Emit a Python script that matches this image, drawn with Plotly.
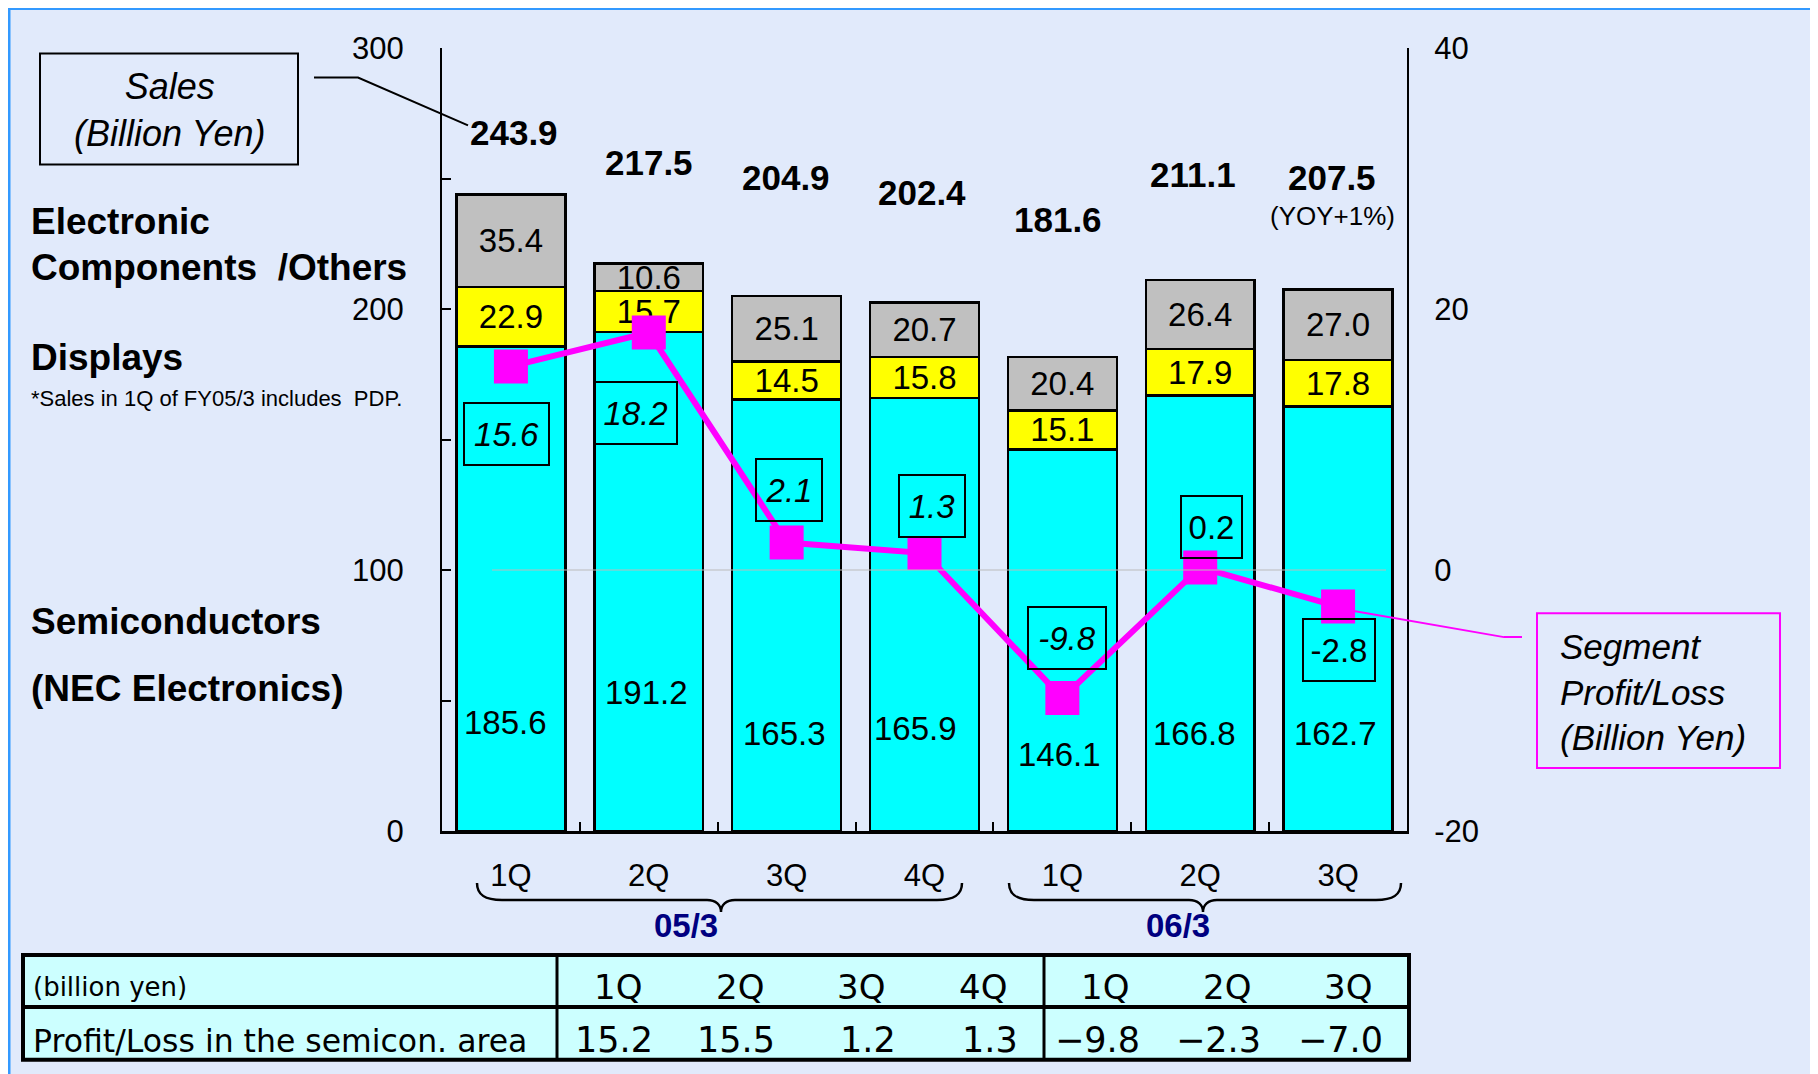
import plotly.graph_objects as go

# ---------------- data ----------------
periods = ["05/3 1Q", "05/3 2Q", "05/3 3Q", "05/3 4Q", "06/3 1Q", "06/3 2Q", "06/3 3Q"]
quarters = ["1Q", "2Q", "3Q", "4Q", "1Q", "2Q", "3Q"]
semiconductors = [185.6, 191.2, 165.3, 165.9, 146.1, 166.8, 162.7]
displays = [22.9, 15.7, 14.5, 15.8, 15.1, 17.9, 17.8]
others = [35.4, 10.6, 25.1, 20.7, 20.4, 26.4, 27.0]
sales_total = [243.9, 217.5, 204.9, 202.4, 181.6, 211.1, 207.5]
segment_pl = [15.6, 18.2, 2.1, 1.3, -9.8, 0.2, -2.8]
segment_italic = [True, True, True, True, True, False, False]
fiscal_years = ["05/3", "06/3"]
semicon_area_pl = [15.2, 15.5, 1.2, 1.3, -9.8, -2.3, -7.0]
left_ticks = [0, 50, 100, 150, 200, 250, 300]
left_tick_text = ["0", "", "100", "", "200", "", "300"]
right_ticks = [-20, 0, 20, 40]
right_tick_text = ["-20", "0", "20", "40"]

# ---------------- layout helpers (page pixels) ----------------
OFF = 8                      # body margin of the html page
W, H = 1810, 1066
PL, PR, PT, PB = 442, 1407, 47.5, 831
FONT = "Liberation Sans, Arial, sans-serif"
TFONT = "DejaVu Sans, Liberation Sans, sans-serif"
BG = "#E1EAFB"


def px(x):
    return (x - PL) / (PR - PL)


def py(y):
    return (PB - y) / (PB - PT)


# label placement (page pixels)
total_py = [132, 162, 177, 192, 219, 174, 177]
total_dx = [3, 0, -1, -3, -4, -7, -6]
semi_py = [722, 692, 733, 728, 754, 733, 733]
semi_dx = [-5, -2, -2, -9, -3, -6, -3]
seg_py = [434, 413, 490, 506, 638, 527, 650]
seg_dx = [-4, -13, 2, 7, 5, 11, 1]
seg_w = [85, 83, 66, 66, 78, 61, 72]

fig = go.Figure()

fig.add_trace(go.Bar(
    x=periods, y=semiconductors, name="Semiconductors",
    marker=dict(color="#00FFFF", line=dict(color="black", width=2.5)),
))
fig.add_trace(go.Bar(
    x=periods, y=displays, name="Displays",
    marker=dict(color="#FFFF00", line=dict(color="black", width=2.5)),
    text=[f"{v:.1f}" for v in displays], textposition="inside",
    insidetextanchor="middle", constraintext="none", textangle=0,
    textfont=dict(family=FONT, size=33, color="black"),
))
fig.add_trace(go.Bar(
    x=periods, y=others, name="Electronic Components /Others",
    marker=dict(color="#C0C0C0", line=dict(color="black", width=2.5)),
    text=[f"{v:.1f}" for v in others], textposition="inside",
    insidetextanchor="middle", constraintext="none", textangle=0,
    textfont=dict(family=FONT, size=33, color="black"),
))
fig.add_trace(go.Scatter(
    x=periods, y=segment_pl, yaxis="y2", mode="lines+markers",
    name="Segment Profit/Loss",
    line=dict(color="#FF00FF", width=6),
    marker=dict(symbol="square", size=34, color="#FF00FF"),
))

ann = []


def text_at(x, y, text, size, xref="paper", xanchor="center", color="black",
            family=FONT, **kw):
    d = dict(x=x, xref=xref, y=y, yref="paper", text=text, showarrow=False,
             xanchor=xanchor, yanchor="middle",
             font=dict(family=family, size=size, color=color))
    d.update(kw)
    ann.append(d)


# totals
for i, v in enumerate(sales_total):
    text_at(periods[i], py(total_py[i]), f"<b>{v:.1f}</b>", 35, xref="x", xshift=total_dx[i])
text_at(periods[6], py(216), "(YOY+1%)", 26, xref="x", xshift=-6)
# semiconductor values
for i, v in enumerate(semiconductors):
    text_at(periods[i], py(semi_py[i]), f"{v:.1f}", 33, xref="x", xshift=semi_dx[i])
# segment value boxes
for i, v in enumerate(segment_pl):
    t = f"{v:.1f}"
    if segment_italic[i]:
        t = f"<i>{t}</i>"
    text_at(periods[i], py(seg_py[i]), t, 33, xref="x", xshift=seg_dx[i],
            width=seg_w[i] - 2, height=60, borderpad=0,
            bordercolor="black", borderwidth=2)

# left side labels
for t, yy in [("<b>Electronic</b>", 221),
              ("<b>Components\u00a0\u00a0/Others</b>", 267),
              ("<b>Displays</b>", 357),
              ("<b>Semiconductors</b>", 621),
              ("<b>(NEC Electronics)</b>", 688)]:
    text_at(px(29), py(yy), t, 37, xanchor="left")
text_at(px(29), py(398), "*Sales in 1Q of FY05/3 includes\u00a0\u00a0PDP.", 22, xanchor="left",
        family="Liberation Sans Narrow, Arial Narrow, Liberation Sans, sans-serif")

# Sales box text
text_at(px(169), py(110), "<i>Sales</i><br><i>(Billion Yen)</i>", 36)
# Segment Profit/Loss box text
text_at(px(1558), py(692), "<i>Segment</i><br><i>Profit/Loss</i><br><i>(Billion Yen)</i>",
        35, xanchor="left", align="left")

# fiscal year labels
for fy, xx in zip(fiscal_years, [686, 1178]):
    text_at(px(xx), py(926), f"<b>{fy}</b>", 33, color="#000080")

# ---------------- table ----------------
T_L, T_R, T_T, T_M, T_B = 23, 1409, 955, 1007, 1060
C1, C2 = 557, 1044
col_edges = [C1 + k * (C2 - C1) / 4 for k in range(5)] + [C2 + k * (T_R - C2) / 3 for k in range(1, 4)]
col_centers = [(col_edges[k] + col_edges[k + 1]) / 2 for k in range(7)]
text_at(px(31), py(987), "(billion yen)", 26, xanchor="left", family=TFONT)
text_at(px(31), py(1041), "Profit/Loss in the semicon. area", 31.5, xanchor="left", family=TFONT)
for k in range(7):
    text_at(px(col_centers[k]), py(987), quarters[k], 34, family=TFONT)
    text_at(px(col_edges[k + 1] - 24), py(1040),
            f"{semicon_area_pl[k]:.1f}".replace("-", "\u2212"), 35,
            xanchor="right", family=TFONT)

shapes = []
# frame lines (top / left) of the slide area
shapes.append(dict(type="line", xref="paper", yref="paper", x0=px(8), x1=px(1830),
                   y0=py(8), y1=py(8), line=dict(color="#3399FF", width=3)))
shapes.append(dict(type="line", xref="paper", yref="paper", x0=px(9), x1=px(9),
                   y0=py(7), y1=py(1080), line=dict(color="#3399FF", width=3)))
# faint zero gridline of the right axis
shapes.append(dict(type="line", xref="paper", yref="y2", x0=px(492), x1=px(1386), y0=0, y1=0,
                   line=dict(color="#BBBBBB", width=1), layer="above"))
# sales box + leader
shapes.append(dict(type="rect", xref="paper", yref="paper",
                   x0=px(40), x1=px(298), y0=py(53), y1=py(164),
                   line=dict(color="black", width=2)))
shapes.append(dict(type="path", xref="paper", yref="paper",
                   path=f"M {px(314)},{py(77)} L {px(358)},{py(77)} L {px(468)},{py(125)}",
                   line=dict(color="black", width=2)))
# segment box + leader
shapes.append(dict(type="rect", xref="paper", yref="paper",
                   x0=px(1537), x1=px(1780), y0=py(613), y1=py(768),
                   line=dict(color="#FF00FF", width=2)))
shapes.append(dict(type="path", xref="paper", yref="paper",
                   path=f"M {px(1338)},{py(608)} L {px(1504)},{py(637)} L {px(1522)},{py(637)}",
                   line=dict(color="#FF00FF", width=2)))


# braces
def brace(x0, x1, tip):
    yt, ym, yb = 883, 900, 912
    p = (f"M {px(x0)},{py(yt)} C {px(x0)},{py(yt+12)} {px(x0+8)},{py(ym)} {px(x0+25)},{py(ym)} "
         f"L {px(tip-14)},{py(ym)} C {px(tip-5)},{py(ym)} {px(tip)},{py(ym+5)} {px(tip)},{py(yb)} "
         f"C {px(tip)},{py(ym+5)} {px(tip+5)},{py(ym)} {px(tip+14)},{py(ym)} "
         f"L {px(x1-25)},{py(ym)} C {px(x1-8)},{py(ym)} {px(x1)},{py(yt+12)} {px(x1)},{py(yt)}")
    return dict(type="path", xref="paper", yref="paper", path=p,
                line=dict(color="black", width=2.5))


shapes.append(brace(477, 962, 721))
shapes.append(brace(1009, 1401, 1203))

# table
shapes.append(dict(type="rect", xref="paper", yref="paper",
                   x0=px(T_L), x1=px(T_R), y0=py(T_T), y1=py(T_B),
                   fillcolor="#CCFFFF", line=dict(color="black", width=4)))
shapes.append(dict(type="line", xref="paper", yref="paper",
                   x0=px(T_L), x1=px(T_R), y0=py(T_M), y1=py(T_M),
                   line=dict(color="black", width=4)))
for cx in [C1, C2]:
    shapes.append(dict(type="line", xref="paper", yref="paper",
                       x0=px(cx), x1=px(cx), y0=py(T_T), y1=py(T_B),
                       line=dict(color="black", width=3)))

fig.update_layout(
    width=W, height=H, autosize=False,
    margin=dict(l=PL - OFF, r=W - (PR - OFF), t=PT - OFF, b=H - (PB - OFF), pad=0),
    paper_bgcolor=BG, plot_bgcolor="rgba(0,0,0,0)",
    barmode="stack", bargap=0.21, showlegend=False,
    font=dict(family=FONT, color="black"),
    xaxis=dict(type="category", tickmode="array", tickvals=periods, ticktext=quarters,
               tickson="boundaries", ticks="inside", ticklen=9, tickwidth=2, tickcolor="black",
               showline=True, linecolor="black", linewidth=2.5, showgrid=False,
               range=[-0.5, 6.5], tickfont=dict(family=FONT, size=31, color="black"),
               ticklabelstandoff=15),
    yaxis=dict(range=[0, 300], tickmode="array", tickvals=left_ticks, ticktext=left_tick_text,
               ticks="inside", ticklen=9, tickwidth=2, tickcolor="black",
               showline=True, linecolor="black", linewidth=2, showgrid=False, zeroline=False,
               tickfont=dict(family=FONT, size=31, color="black"), ticklabelstandoff=30),
    yaxis2=dict(range=[-20, 40], overlaying="y", side="right", tickmode="array",
                tickvals=right_ticks, ticktext=right_tick_text, ticks="",
                showline=True, linecolor="black", linewidth=2,
                showgrid=False, zeroline=False,
                tickfont=dict(family=FONT, size=31, color="black"), ticklabelstandoff=19),
    annotations=ann, shapes=shapes,
)

fig.write_html("out.html")
